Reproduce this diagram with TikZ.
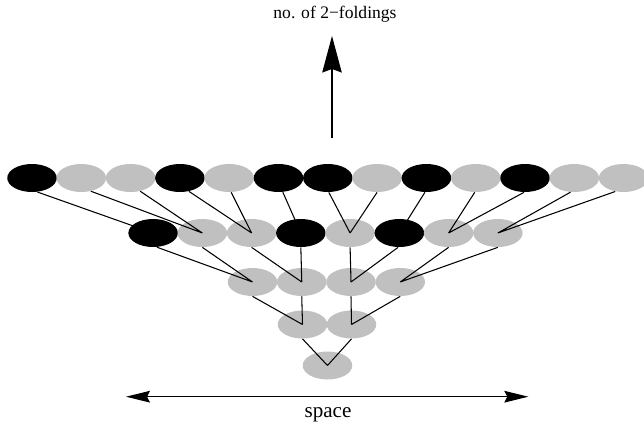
\documentclass[tikz,border=0pt]{standalone}
\usepackage{fontspec}
\setmainfont{Liberation Serif}
\usepackage{tikz}
\usetikzlibrary{shapes.geometric}
\usetikzlibrary{arrows.meta}
\definecolor{cellgray}{RGB}{192,192,192}

\begin{document}
\begin{tikzpicture}[
        cell/.style={ellipse, inner sep=0pt, minimum width=0.99cm, minimum height=0.56cm},
        bcell/.style={cell, fill=black},
        gcell/.style={cell, fill=cellgray},
        link/.style={line width=0.6pt, black},
        axis/.style={line width=0.6pt, black}]
        \useasboundingbox (0,0) rectangle (12.88,8.48);
        % top row
        \node[bcell] (a1) at (0.640, 4.92) {};
        \node[gcell] (a2) at (1.626, 4.92) {};
        \node[gcell] (a3) at (2.612, 4.92) {};
        \node[bcell] (a4) at (3.598, 4.92) {};
        \node[gcell] (a5) at (4.584, 4.92) {};
        \node[bcell] (a6) at (5.570, 4.92) {};
        \node[bcell] (a7) at (6.556, 4.92) {};
        \node[gcell] (a8) at (7.542, 4.92) {};
        \node[bcell] (a9) at (8.528, 4.92) {};
        \node[gcell] (a10) at (9.514, 4.92) {};
        \node[bcell] (a11) at (10.500, 4.92) {};
        \node[gcell] (a12) at (11.486, 4.92) {};
        \node[gcell] (a13) at (12.472, 4.92) {};
        % second row
        \node[bcell] (b1) at (3.062, 3.82) {};
        \node[gcell] (b2) at (4.047, 3.82) {};
        \node[gcell] (b3) at (5.032, 3.82) {};
        \node[bcell] (b4) at (6.017, 3.82) {};
        \node[gcell] (b5) at (7.002, 3.82) {};
        \node[bcell] (b6) at (7.987, 3.82) {};
        \node[gcell] (b7) at (8.972, 3.82) {};
        \node[gcell] (b8) at (9.957, 3.82) {};
        % lower rows
        \node[gcell] (c1) at (5.050, 2.84) {};
        \node[gcell] (c2) at (6.035, 2.84) {};
        \node[gcell] (c3) at (7.020, 2.84) {};
        \node[gcell] (c4) at (8.005, 2.84) {};
        \node[gcell] (d1) at (6.050, 1.99) {};
        \node[gcell] (d2) at (7.030, 1.99) {};
        \node[gcell] (e1) at (6.550, 1.17) {};

        \draw[link] (b1.center) -- (a1.291);
        \draw[link] (b2.center) -- (a2.306) (b2.center) -- (a3.306);
        \draw[link] (b3.center) -- (a4.304) (b3.center) -- (a5.278);
        \draw[link] (b4.center) -- (a6.287);
        \draw[link] (b5.center) -- (a7.274) (b5.center) -- (a8.270);
        \draw[link] (b6.center) -- (a9.264);
        \draw[link] (b7.center) -- (a10.266) (b7.center) -- (a11.266);
        \draw[link] (b8.center) -- (a12.255) (b8.center) -- (a13.238);

        \draw[link] (c1.center) -- (b1.285) (c1.center) -- (b2.south);
        \draw[link] (c2.center) -- (b3.south) (c2.center) -- (b4.south);
        \draw[link] (c3.center) -- (b5.south) (c3.center) -- (b6.265);
        \draw[link] (c4.center) -- (b7.south) (c4.center) -- (b8.south);

        \draw[link] (d1.center) -- (c1.south) (d1.center) -- (c2.south);
        \draw[link] (d2.center) -- (c3.south) (d2.center) -- (c4.south);
        \draw[link] (e1.center) -- (d1.south) (e1.center) -- (d2.south);

        % axes
        \coordinate (upfoot) at (6.64, 5.714);
        \coordinate (uptip) at (6.64, 7.76);
        \draw[axis, -{Stealth[length=0.73cm, width=0.39cm, inset=0.07cm]}] (upfoot) -- (uptip);
        \node[anchor=base, font=\fontsize{10}{12}\selectfont] (uplabel) at (6.70, 8.114) {no. of 2−foldings};

        \coordinate (spleft) at (2.52, 0.546);
        \coordinate (spright) at (10.566, 0.546);
        \draw[axis, {Stealth[length=0.48cm, width=0.234cm, inset=0.06cm]}-{Stealth[length=0.48cm, width=0.234cm, inset=0.06cm]}] (spleft) -- (spright);
        \node[anchor=base, font=\fontsize{12}{14}\selectfont] (splabel) at (6.56, 0.126) {space};
\end{tikzpicture}
\end{document}
